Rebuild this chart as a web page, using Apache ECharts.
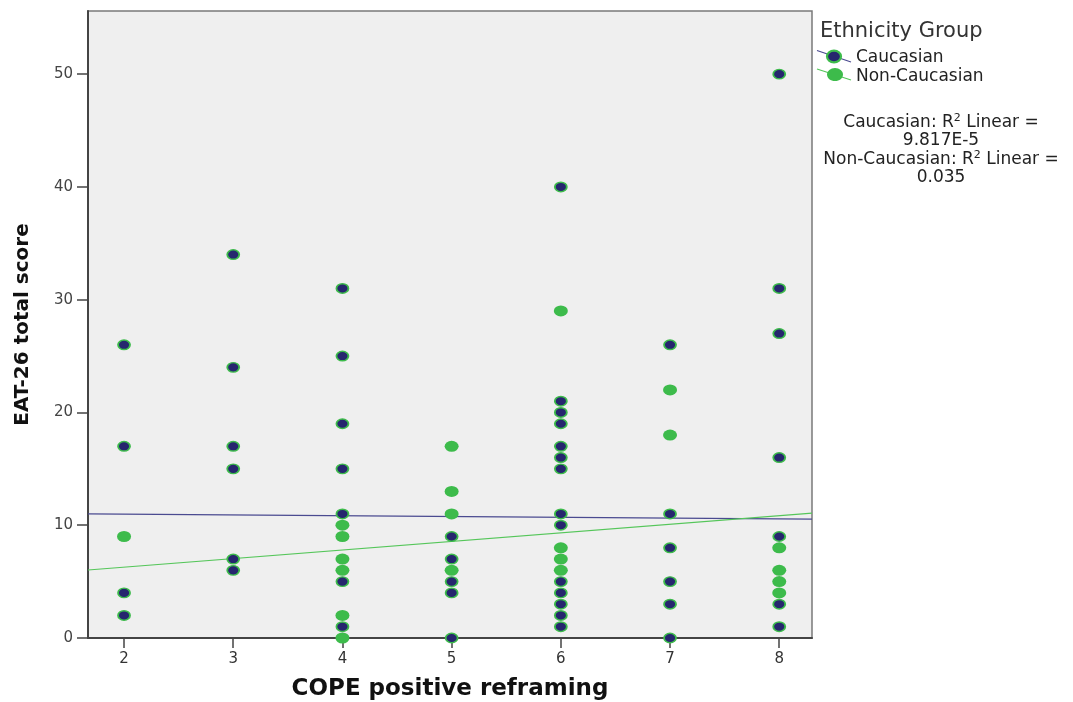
<!DOCTYPE html>
<html>
<head>
<meta charset="utf-8">
<title>EAT-26 total score by COPE positive reframing</title>
<script src="https://cdn.jsdelivr.net/npm/echarts@6/dist/echarts.min.js"></script>
<style>
  html, body { margin: 0; padding: 0; background: #ffffff; }
  #chart { width: 1073px; height: 702px; }
</style>
</head>
<body>
<div id="chart"></div>
<script>
// COPE positive reframing score (x) vs EAT-26 total score (y), per ethnicity group
const caucasianPoints = [
  [2, 26], [2, 17], [2, 4], [2, 2],
  [3, 34], [3, 24], [3, 17], [3, 15], [3, 7], [3, 6],
  [4, 31], [4, 25], [4, 19], [4, 15], [4, 11], [4, 5], [4, 1],
  [5, 9], [5, 7], [5, 5], [5, 4], [5, 0],
  [6, 40], [6, 21], [6, 20], [6, 19], [6, 17], [6, 16], [6, 15], [6, 11], [6, 10],
  [6, 5], [6, 4], [6, 3], [6, 2], [6, 1],
  [7, 26], [7, 11], [7, 8], [7, 5], [7, 3], [7, 0],
  [8, 50], [8, 31], [8, 27], [8, 16], [8, 9], [8, 3], [8, 1]
];
const nonCaucasianPoints = [
  [2, 9],
  [4, 10], [4, 9], [4, 7], [4, 6], [4, 2], [4, 0],
  [5, 17], [5, 13], [5, 11], [5, 6],
  [6, 29], [6, 8], [6, 7], [6, 6],
  [7, 22], [7, 18],
  [8, 8], [8, 6], [8, 5], [8, 4]
];

// Linear fit lines: x domain ends and fitted EAT-26 score at each end
const fitXRange = [1.67, 8.30];
const caucasianFit = [11.0, 10.55];
const nonCaucasianFit = [6.03, 11.08];
const rSquared = ['9.817E-5', '0.035'];

const groupNames = ['Caucasian', 'Non-Caucasian'];
const xTicks = [2, 3, 4, 5, 6, 7, 8];
const yTicks = [0, 10, 20, 30, 40, 50];
const yMax = 55.6;

const NAVY = '#26266e';
const GREEN = '#3dbb4b';
const NAVY_LINE = '#4a4a90';
const GREEN_LINE = '#55c65a';
const FONT = '"DejaVu Sans", "Noto Sans", sans-serif';

const chart = echarts.init(document.getElementById('chart'), null, { renderer: 'canvas' });

const axisCommon = {
  axisLine: { show: true, onZero: false, lineStyle: { color: '#444', width: 2 } },
  axisTick: { show: true, inside: false, lineStyle: { color: '#444', width: 1.5 } },
  splitLine: { show: false },
  nameTextStyle: { fontFamily: FONT, fontWeight: 'bold', color: '#111' }
};

chart.setOption({
  animation: false,
  backgroundColor: '#ffffff',
  grid: {
    left: 88, right: 261, top: 11, bottom: 64,
    outerBoundsMode: 'none',
    containLabel: false,
    show: true, backgroundColor: '#efefef', borderColor: '#7a7a7a', borderWidth: 1.5
  },
  xAxis: Object.assign({}, axisCommon, {
    type: 'value',
    min: fitXRange[0], max: fitXRange[1],
    name: 'COPE positive reframing',
    nameLocation: 'middle', nameGap: 40,
    nameTextStyle: Object.assign({}, axisCommon.nameTextStyle, { fontSize: 23 }),
    axisTick: Object.assign({}, axisCommon.axisTick, { length: 10, customValues: xTicks }),
    axisLabel: { customValues: xTicks, margin: 14, fontFamily: FONT, fontSize: 15, color: '#333' }
  }),
  yAxis: Object.assign({}, axisCommon, {
    type: 'value',
    min: 0, max: yMax,
    name: 'EAT-26 total score',
    nameLocation: 'middle', nameGap: 55,
    nameTextStyle: Object.assign({}, axisCommon.nameTextStyle, { fontSize: 20 }),
    axisTick: Object.assign({}, axisCommon.axisTick, { length: 11, customValues: yTicks }),
    axisLabel: { customValues: yTicks, margin: 15, fontFamily: FONT, fontSize: 15, color: '#444' }
  }),
  series: [
    {
      name: groupNames[0] + ' fit',
      type: 'line',
      data: [[fitXRange[0], caucasianFit[0]], [fitXRange[1], caucasianFit[1]]],
      symbol: 'none', silent: true, z: 1,
      lineStyle: { color: NAVY_LINE, width: 1.2 }
    },
    {
      name: groupNames[1] + ' fit',
      type: 'line',
      data: [[fitXRange[0], nonCaucasianFit[0]], [fitXRange[1], nonCaucasianFit[1]]],
      symbol: 'none', silent: true, z: 1,
      lineStyle: { color: GREEN_LINE, width: 1.2 }
    },
    {
      name: groupNames[0],
      type: 'scatter',
      data: caucasianPoints,
      symbol: 'circle',
      symbolSize: [12, 9.5],
      clip: true, z: 3,
      itemStyle: { color: NAVY, borderColor: GREEN, borderWidth: 1.6, opacity: 1 }
    },
    {
      name: groupNames[1],
      type: 'scatter',
      data: nonCaucasianPoints,
      symbol: 'circle',
      symbolSize: [14, 11],
      clip: true, z: 3,
      itemStyle: { color: GREEN, opacity: 1 }
    }
  ],
  graphic: [
    {
      type: 'group',
      children: [
        { type: 'text', style: { text: 'Ethnicity Group', x: 820, y: 32, verticalAlign: 'middle',
            font: '21px ' + FONT, fill: '#333' } },
        { type: 'line', shape: { x1: 817, y1: 50.5, x2: 851, y2: 62 }, style: { stroke: NAVY_LINE, lineWidth: 1.2 } },
        { type: 'ellipse', shape: { cx: 834, cy: 56.5, rx: 7, ry: 5.8 }, style: { fill: NAVY, stroke: GREEN, lineWidth: 2.2 } },
        { type: 'text', style: { text: groupNames[0], x: 856, y: 57.5, verticalAlign: 'middle',
            font: '17px ' + FONT, fill: '#222' } },
        { type: 'line', shape: { x1: 817, y1: 69, x2: 851, y2: 80 }, style: { stroke: GREEN_LINE, lineWidth: 1.2 } },
        { type: 'ellipse', shape: { cx: 835, cy: 74.5, rx: 8, ry: 6.6 }, style: { fill: GREEN } },
        { type: 'text', style: { text: groupNames[1], x: 856, y: 76.5, verticalAlign: 'middle',
            font: '17px ' + FONT, fill: '#222' } },
        { type: 'text', style: {
            text: '{t|' + groupNames[0] + ': R}{s|2}{t| Linear =}\n{t|' + rSquared[0] + '}\n' +
                  '{t|' + groupNames[1] + ': R}{s|2}{t| Linear =}\n{t|' + rSquared[1] + '}',
            x: 941, y: 150, align: 'center', verticalAlign: 'middle',
            fill: '#222', font: '17px ' + FONT,
            rich: {
              t: { fontSize: 17, fontFamily: FONT, lineHeight: 18.5, fill: '#222' },
              s: { fontSize: 11, fontFamily: FONT, lineHeight: 9, verticalAlign: 'top', fill: '#222' }
            }
          } }
      ]
    }
  ]
});
</script>
</body>
</html>
